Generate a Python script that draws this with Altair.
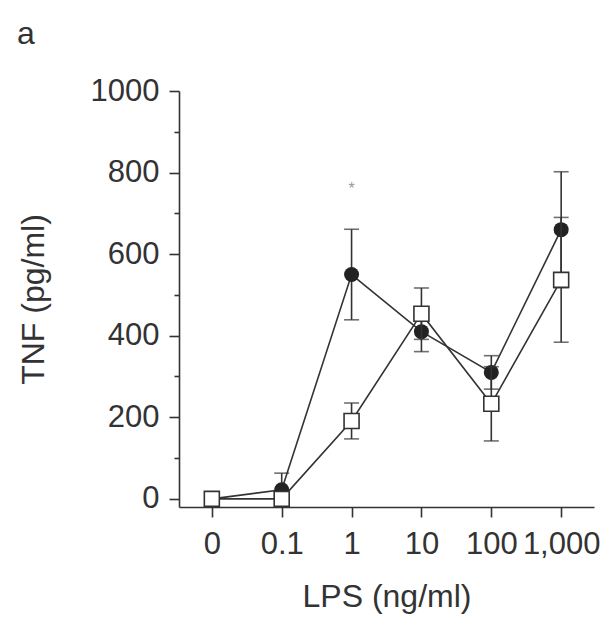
import altair as alt
import pandas as pd

doses = ["0", "0.1", "1", "10", "100", "1,000"]
filled_mean = [0, 22, 550, 410, 310, 660]
filled_err = [0, 41, 111, 49, 41, 142]
open_mean = [0, 0, 191, 454, 233, 537]
open_err = [0, 0, 44, 63, 91, 153]
y_ticks = [0, 100, 200, 300, 400, 500, 600, 700, 800, 900, 1000]
star_dose = ["1"]
star_value = [760]
star_text = ["*"]

rows = []
for d, m, e in zip(doses, filled_mean, filled_err):
    rows.append({"dose": d, "series": "filled", "mean": m, "lo": m - e, "hi": m + e})
for d, m, e in zip(doses, open_mean, open_err):
    rows.append({"dose": d, "series": "open", "mean": m, "lo": m - e, "hi": m + e})
df = pd.DataFrame(rows)
filled = df[df.series == "filled"]
opened = df[df.series == "open"]
star = pd.DataFrame({"dose": star_dose, "value": star_value, "text": star_text})

FONT = "Liberation Sans"
INK = "#333333"

x_scale = alt.Scale(type="point", padding=0.47)
x_enc = alt.X(
    "dose:N",
    sort=doses,
    scale=x_scale,
    axis=alt.Axis(
        title="LPS (ng/ml)",
        labelAngle=0,
        labelAlign="center",
        labelBaseline="top",
        labelOverlap=False,
        labelFlush=False,
        labelBound=False,
        tickSize=10,
        labelPadding=12,
        titlePadding=22,
    ),
)
y_scale = alt.Scale(domain=[-20, 1000], nice=False, zero=False)
y_enc = alt.Y(
    "mean:Q",
    scale=y_scale,
    axis=alt.Axis(
        title="TNF (pg/ml)",
        values=y_ticks,
        labelExpr="datum.value % 200 == 0 ? datum.label : ''",
        tickSize={"condition": {"test": "datum.value % 200 == 0", "value": 10}, "value": 5},
        labelPadding=10,
        titlePadding=40,
        format="d",
    ),
)

def errbars(data):
    return alt.Chart(data).mark_errorbar(
        ticks={"size": 15, "thickness": 1.6, "color": INK},
        thickness=1.6,
        color=INK,
    ).encode(
        x=x_enc,
        y=alt.Y("lo:Q", scale=y_scale, title="TNF (pg/ml)"),
        y2="hi:Q",
    )

f_err = errbars(filled)
f_line = alt.Chart(filled).mark_line(color=INK, strokeWidth=1.6).encode(x=x_enc, y=y_enc)
f_pts = alt.Chart(filled).mark_point(
    shape="circle", filled=True, size=225, color="#222222", opacity=1
).encode(x=x_enc, y=y_enc)

o_err = errbars(opened)
o_line = alt.Chart(opened).mark_line(color=INK, strokeWidth=1.6).encode(x=x_enc, y=y_enc)
o_pts = alt.Chart(opened).mark_point(
    shape="square", filled=True, size=225, fill="white", stroke=INK, strokeWidth=1.6, opacity=1
).encode(x=x_enc, y=y_enc)

star_txt = alt.Chart(star).mark_text(fontSize=16, color="#999999", font=FONT).encode(
    x=x_enc,
    y=alt.Y("value:Q", scale=y_scale),
    text="text:N",
)

chart = alt.layer(f_err, f_line, f_pts, o_err, o_line, o_pts, star_txt).properties(
    width=415,
    height=416,
    padding={"left": 9, "top": 10, "right": 5, "bottom": 5},
    title=alt.TitleParams("a", anchor="start", frame="bounds", fontSize=32, font=FONT,
                          fontWeight="normal", color=INK, offset=24),
).configure_view(stroke=None).configure_axis(
    labelFont=FONT,
    titleFont=FONT,
    labelFontSize=31,
    titleFontSize=32,
    titleFontWeight="normal",
    labelColor=INK,
    titleColor=INK,
    domainColor=INK,
    tickColor=INK,
    domainWidth=1.6,
    tickWidth=1.6,
    grid=False,
)

chart.save("out.html", embed_options={"renderer": "svg", "actions": False})
